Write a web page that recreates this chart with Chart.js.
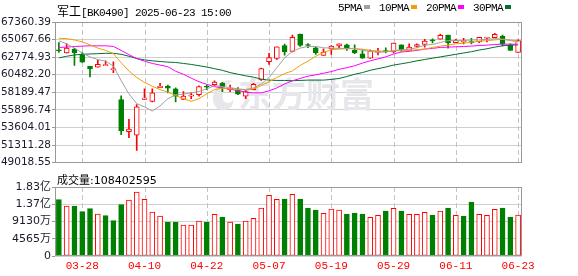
<!DOCTYPE html>
<html><head><meta charset="utf-8">
<script src="https://cdn.jsdelivr.net/npm/chart.js@4.4.0/dist/chart.umd.min.js"></script>
<style>
html,body{margin:0;padding:0;background:#fff;}
#wrap{position:relative;width:578px;height:276px;overflow:hidden;background:#fff;}
canvas{position:absolute;left:0;}
.t{position:absolute;white-space:nowrap;color:#000;line-height:12px;}
.sq{display:inline-block;width:6px;height:4px;vertical-align:middle;margin-left:2px;position:relative;top:-1px;}
</style></head><body>
<div id="wrap">
<canvas id="c1" width="578" height="170" style="top:0"></canvas>
<canvas id="c2" width="578" height="106" style="top:170px"></canvas>
<div class="t" style="left:57px;top:2px;"><span style="font:12px 'Noto Sans CJK SC';">军工</span><span style="font:11px 'Liberation Mono';letter-spacing:-0.6px;">[BK0490] 2025-06-23 15:00</span></div>
<div class="t" id="legend" style="left:338px;top:2px;font:11px 'Liberation Mono';letter-spacing:-0.6px;"></div>
<div class="t" style="left:57px;top:171px;font:11px 'DejaVu Sans','Noto Sans CJK SC';">成交量:108402595</div>
</div>
<script>
const dates = ['03-25','03-26','03-27','03-28','03-31','04-01','04-02','04-03','04-07','04-08','04-09','04-10','04-11','04-14','04-15','04-16','04-17','04-18','04-21','04-22','04-23','04-24','04-25','04-28','04-29','04-30','05-06','05-07','05-08','05-09','05-12','05-13','05-14','05-15','05-16','05-19','05-20','05-21','05-22','05-23','05-26','05-27','05-28','05-29','05-30','06-03','06-04','06-05','06-06','06-09','06-10','06-11','06-12','06-13','06-16','06-17','06-18','06-19','06-20','06-23'];
const xTickLabels = ['03-28','04-10','04-22','05-07','05-19','05-29','06-11','06-23'];

const opens  = [63650,63325,63836,63108,61575,61486,61665,61150,57234,53058,52598,57272,57017,58804,59022,58639,57272,57706,57872,58920,59187,59404,58549,58511,57706,58549,59826,62175,62597,64296,63529,65789,64320,64001,63018,63836,64257,64385,63657,63197,62635,63401,63510,63452,64385,63657,64167,64423,64920,65113,65662,64679,64768,64768,64768,65240,65317,65534,64346,63401];
const highs  = [64679,64513,63912,63452,61575,62380,62303,62175,57745,54679,56596,58639,58639,59366,59149,58767,58294,58128,59034,59149,59698,59481,59149,58804,58421,59366,61359,63274,64129,64474,65662,65789,64551,64090,63874,64296,64513,64474,64385,63746,63746,63912,64001,64602,64385,64513,64513,65113,65151,65789,65662,65113,65234,65234,65368,65368,65879,65662,64513,65023];
const lows   = [63401,63300,61686,62100,60209,61486,61665,60768,52675,52292,50632,57272,56936,58804,58128,56936,57272,57374,57706,58549,59060,58294,58294,57872,57374,58520,59749,61831,62469,63031,63452,64167,64001,63146,63018,63146,63963,63657,63235,62597,62597,63069,63325,63325,63529,63657,64090,64090,64640,65113,63963,64679,64513,64513,64679,64768,65317,64257,63657,63401];
const closes = [63618,63963,63325,62127,61231,61831,61793,61192,53186,53403,56302,57451,58128,58983,58728,57706,57706,57872,58932,58870,59532,58893,58728,57962,58294,59238,61282,62725,64129,63452,65368,64296,64296,63325,63452,64219,64513,63963,63325,62635,63618,63491,63491,64602,63746,64090,64423,64857,64896,65624,64679,64985,64934,64679,65368,65368,65751,64513,63657,64934];

const ma5  = [64895,64512,63959,63320,62809,62469,62256,61617,59702,57999,56722,56296,55743,56424,57360,57871,57956,58126,58297,58637,59063,58935,58808,58637,58552,58765,59276,60127,61404,62681,63533,63959,64171,64171,64001,63959,63916,63916,63916,63661,63533,63448,63448,63618,63746,63831,64001,64342,64427,64682,64938,64938,64938,65023,65023,65108,65193,65108,64938,64767];
const ma10 = [65236,65193,65023,64767,64384,63959,63661,63235,62043,60979,60127,59489,58978,58552,58212,57786,57360,57020,57360,57999,58552,58722,58637,58552,58510,58637,59063,59574,60127,60638,60979,61702,62256,62894,63405,63746,63831,63873,63873,63831,63661,63575,63533,63618,63618,63661,63746,63831,64044,64214,64342,64512,64597,64725,64853,64938,65023,65108,65023,64853];
const ma20 = [64044,64086,64171,64214,64257,64257,64257,64171,63661,63107,62596,62256,61958,61745,61532,60936,60553,60042,59574,59233,58935,58765,58595,58424,58212,58126,58126,58382,58765,59276,59702,60000,60298,60468,60681,60894,61191,61404,61660,62000,62298,62554,62809,63192,63448,63533,63661,63831,63916,64044,64086,64129,64171,64214,64299,64342,64427,64469,64469,64469];
const ma30 = [62681,62894,63065,63150,63192,63235,63277,63277,63150,62894,62596,62426,62298,62213,62128,62085,61958,61830,61660,61489,61277,61064,60766,60553,60340,60170,59914,59787,59744,59744,59702,59744,59787,59787,59787,59872,60000,60255,60553,60766,61064,61277,61489,61745,61915,62085,62298,62469,62639,62809,62979,63150,63320,63490,63703,63873,64086,64257,64342,64384];

// volume in 万
const volumes = [14906,13230,13230,11731,12524,11113,10672,9349,13583,14818,16934,14994,11642,10584,8996,8996,8203,8203,9261,8996,11025,10319,8996,8467,9261,9967,12701,16052,14994,15082,16317,15082,12701,12172,11290,12436,12172,11113,11378,11113,10231,10760,11907,12613,11907,11025,11025,11554,10849,11907,12701,10760,10584,14288,11025,10760,12348,12701,10319,10840];
const volDir  = [-1,1,-1,-1,-1,1,-1,-1,-1,1, 1,1,1,1,-1,-1,1,1,1,-1, 1,-1,1,-1,1,1,1,1,1,-1, 1,-1,-1,-1,1,1,1,-1,-1,-1, 1,1,-1,1,-1,1,1,1,-1,1, -1,1,-1,-1,1,1,1,-1,-1,1];

const priceTicks = [49018.55,51311.28,53604.01,55896.74,58189.47,60482.20,62774.93,65067.66,67360.39];
const priceTickLabels = ['49018.55','51311.28','53604.01','55896.74','58189.47','60482.20','62774.93','65067.66','67360.39'];
const volTicks = [0,4565,9130,13695,18260];
const volTickLabels = ['0','4565万','9130万','1.37亿','1.83亿'];

const maNames = ['5PMA','10PMA','20PMA','30PMA'];
const maColors = ['#a0a0a0','#f0a000','#ff00ff','#006f30'];
const RED = '#ff0000', GREEN = '#008000';

document.getElementById('legend').innerHTML = maNames.map((n,i)=>
  `<span style="margin-right:${i<3?9:0}px">${n}<span class="sq" style="background:${maColors[i]}"></span></span>`).join('');

const tickIdx = xTickLabels.map(l => dates.indexOf(l));

const frame = {
  id:'frame',
  beforeDatasetsDraw(chart){
    const a = chart.chartArea, c = chart.ctx, xs = chart.scales.x;
    c.save(); c.strokeStyle = '#c4c4c4'; c.lineWidth = 1; c.setLineDash([5,3]);
    tickIdx.forEach(i=>{
      const x = Math.round(xs.getPixelForValue(i)) + 0.5;
      c.beginPath(); c.moveTo(x, a.top); c.lineTo(x, a.bottom); c.stroke();
    });
    c.restore();
  },
  afterDraw(chart){
    const a = chart.chartArea, c = chart.ctx;
    c.save(); c.strokeStyle = '#999'; c.lineWidth = 1;
    c.strokeRect(Math.round(a.left)+0.5, Math.round(a.top)+0.5, Math.round(a.right-a.left)-1, Math.round(a.bottom-a.top)-1);
    c.restore();
  }
};
const watermark = {
  id:'wm',
  beforeDatasetsDraw(chart){
    const c = chart.ctx;
    c.save();
    c.fillStyle = '#e7e7eb';
    c.beginPath();
    c.ellipse(226, 95, 12, 16, 0.5, Math.PI*0.15, Math.PI*1.35);
    c.ellipse(231, 92, 7, 12, 0.5, Math.PI*1.35, Math.PI*0.15, true);
    c.closePath(); c.fill();
    c.font = 'bold 34px "Noto Sans CJK SC"';
    c.textBaseline = 'middle';
    c.fillText('东方财富', 238, 94);
    c.restore();
  }
};

const up = closes.map((c,i)=> c >= opens[i]);

new Chart(document.getElementById('c1'), {
  type:'bar',
  data:{
    labels: dates,
    datasets:[
      ...[ma5,ma10,ma20,ma30].map((d,k)=>({type:'line', data:d, borderColor:maColors[k], borderWidth:1, pointRadius:0, tension:0, order:0})),
      {type:'bar', data: opens.map((o,i)=>[o, closes[i]]), backgroundColor: up.map(u=>u?'#ffffff':GREEN),
        borderColor: up.map(u=>u?RED:GREEN), borderWidth:1, borderSkipped:false, barThickness:5, minBarLength:1, grouped:false, order:1},
      {type:'bar', data: lows.map((l,i)=>[l, highs[i]]), backgroundColor: up.map(u=>u?RED:GREEN),
        borderWidth:0, barThickness:1, grouped:false, order:2}
    ]
  },
  options:{
    responsive:false, animation:false, devicePixelRatio:1,
    layout:{padding:{top:22,right:56,bottom:5,left:0}},
    plugins:{legend:{display:false}, tooltip:{enabled:false}},
    scales:{
      x:{offset:true, grid:{display:false, drawTicks:false}, border:{display:false},
         ticks:{display:false, autoSkip:false}, afterFit(s){ s.height = 0; }},
      y:{min:priceTicks[0], max:priceTicks[priceTicks.length-1],
         afterBuildTicks(s){ s.ticks = priceTicks.map(v=>({value:v})); },
         afterFit(s){ s.width = 55; },
         ticks:{callback:(v,i)=>priceTickLabels[i], color:'#1a1a2a', font:{family:'DejaVu Sans', size:10.5}, padding:1},
         grid:{color:'#d0d0d0', tickLength:3, tickColor:'#999'}, border:{display:false}}
    }
  },
  plugins:[watermark, frame]
});

new Chart(document.getElementById('c2'), {
  type:'bar',
  data:{
    labels: dates,
    datasets:[
      {data: volumes, backgroundColor: volDir.map(d=>d>0?'#ffffff':GREEN), borderColor: volDir.map(d=>d>0?RED:GREEN),
       borderWidth:1, borderSkipped:false, barThickness:5}
    ]
  },
  options:{
    responsive:false, animation:false, devicePixelRatio:1,
    layout:{padding:{top:17,right:56,bottom:0,left:0}},
    plugins:{legend:{display:false}, tooltip:{enabled:false}},
    scales:{
      x:{offset:true, grid:{display:false, drawTicks:false}, border:{display:false},
         ticks:{autoSkip:false, maxRotation:0, minRotation:0, padding:3, color:RED, font:{family:'Liberation Mono', size:11},
                callback:(v,i)=> xTickLabels.includes(dates[i]) ? dates[i] : ''},
         afterFit(s){ s.height = 20; }},
      y:{min:0, max:volTicks[volTicks.length-1],
         afterBuildTicks(s){ s.ticks = volTicks.map(v=>({value:v})); },
         afterFit(s){ s.width = 55; },
         ticks:{callback:(v,i)=>volTickLabels[i], color:'#1a1a2a', font:{family:"'DejaVu Sans','Noto Sans CJK SC'", size:11}, padding:1},
         grid:{color:'#d0d0d0', tickLength:3, tickColor:'#999'}, border:{display:false}}
    }
  },
  plugins:[frame]
});
</script>
</body></html>
